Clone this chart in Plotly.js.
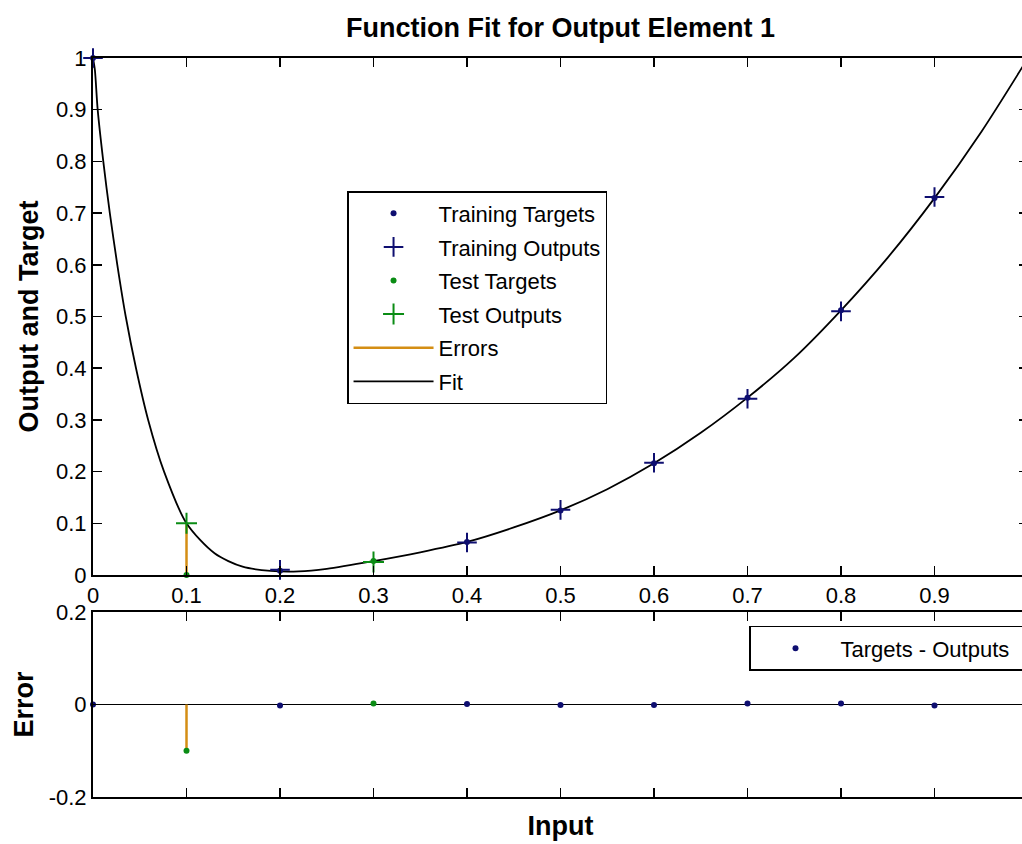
<!DOCTYPE html>
<html>
<head>
<meta charset="utf-8">
<script src="https://cdn.plot.ly/plotly-3.0.1.min.js"></script>
<style>
html,body{margin:0;padding:0;overflow:hidden;background:#fff;}
#chart{width:1030px;height:844px;}
</style>
</head>
<body>
<div id="chart"></div>
<script>
// ---- data ----
const xTrain = [0, 0.2, 0.4, 0.5, 0.6, 0.7, 0.8, 0.9];
const trainTargets = [1, 0.008, 0.064, 0.125, 0.216, 0.343, 0.512, 0.729];
const trainOutputs = [1, 0.010, 0.063, 0.126, 0.217, 0.341, 0.510, 0.731];

const xTest = [0.1, 0.3];
const testTargets = [0, 0.027];
const testOutputs = [0.1, 0.025];

const fitX = [0, 0.002, 0.005, 0.011, 0.018, 0.026, 0.035, 0.046, 0.059, 0.076, 0.1, 0.13, 0.16, 0.19, 0.22, 0.25, 0.3, 0.35, 0.4, 0.45, 0.5, 0.55, 0.6, 0.65, 0.7, 0.75, 0.8, 0.85, 0.9, 0.95, 1.0];
const fitY = [1, 0.977, 0.9, 0.8, 0.7, 0.6, 0.5, 0.4, 0.3, 0.2, 0.1, 0.042, 0.016, 0.008, 0.007, 0.012, 0.027, 0.044, 0.064, 0.092, 0.125, 0.166, 0.216, 0.275, 0.343, 0.42, 0.512, 0.614, 0.729, 0.857, 1.0];

const xTickVals = [0, 0.1, 0.2, 0.3, 0.4, 0.5, 0.6, 0.7, 0.8, 0.9];
const xTickText = ['0', '0.1', '0.2', '0.3', '0.4', '0.5', '0.6', '0.7', '0.8', '0.9'];
const yTickVals = [0, 0.1, 0.2, 0.3, 0.4, 0.5, 0.6, 0.7, 0.8, 0.9, 1];
const yTickText = ['0', '0.1', '0.2', '0.3', '0.4', '0.5', '0.6', '0.7', '0.8', '0.9', '1'];
const errTickVals = [-0.2, 0, 0.2];
const errTickText = ['-0.2', '0', '0.2'];

// ---- derived ----
const allX = xTrain.concat(xTest);
const allT = trainTargets.concat(testTargets);
const allO = trainOutputs.concat(testOutputs);
const allE = allT.map((t, i) => +(t - allO[i]).toFixed(4));
const trainErr = trainTargets.map((t, i) => +(t - trainOutputs[i]).toFixed(4));
const testErr = testTargets.map((t, i) => +(t - testOutputs[i]).toFixed(4));

const errLineX = [], errLineY = [], errLine2X = [], errLine2Y = [];
allX.forEach((x, i) => {
  errLineX.push(x, x, null); errLineY.push(allT[i], allO[i], null);
  errLine2X.push(x, x, null); errLine2Y.push(0, allE[i], null);
});

const NAVY = 'rgb(14,14,112)';
const GREEN = 'rgb(10,140,20)';
const ORANGE = 'rgb(212,142,20)';
const FONT = 'Liberation Sans, Arial, sans-serif';

const traces = [
  {x: errLineX, y: errLineY, mode: 'lines', name: 'Errors', line: {color: ORANGE, width: 2.5},
   legendrank: 5, legendgroup: 'g5', xaxis: 'x', yaxis: 'y', hoverinfo: 'skip'},
  {x: fitX, y: fitY, mode: 'lines', name: 'Fit', line: {color: 'black', width: 1.8, shape: 'spline', smoothing: 0.8},
   legendrank: 6, legendgroup: 'g6', xaxis: 'x', yaxis: 'y'},
  {x: xTrain, y: trainTargets, mode: 'markers', name: 'Training Targets',
   marker: {color: NAVY, size: 6, symbol: 'circle'}, cliponaxis: false,
   legendrank: 1, legendgroup: 'g1', xaxis: 'x', yaxis: 'y'},
  {x: xTrain, y: trainOutputs, mode: 'markers', name: 'Training Outputs',
   marker: {color: NAVY, size: 14, symbol: 'cross-thin', line: {color: NAVY, width: 2}}, cliponaxis: false,
   legendrank: 2, legendgroup: 'g2', xaxis: 'x', yaxis: 'y'},
  {x: xTest, y: testTargets, mode: 'markers', name: 'Test Targets',
   marker: {color: GREEN, size: 6, symbol: 'circle'}, cliponaxis: false,
   legendrank: 3, legendgroup: 'g3', xaxis: 'x', yaxis: 'y'},
  {x: xTest, y: testOutputs, mode: 'markers', name: 'Test Outputs',
   marker: {color: GREEN, size: 15, symbol: 'cross-thin', line: {color: GREEN, width: 2}}, cliponaxis: false,
   legendrank: 4, legendgroup: 'g4', xaxis: 'x', yaxis: 'y'},
  // error subplot
  {x: errLine2X, y: errLine2Y, mode: 'lines', line: {color: ORANGE, width: 2.5}, showlegend: false,
   xaxis: 'x2', yaxis: 'y2', hoverinfo: 'skip'},
  {x: xTrain, y: trainErr, mode: 'markers', name: 'Targets - Outputs\u00a0\u00a0', legend: 'legend2',
   marker: {color: NAVY, size: 6, symbol: 'circle'}, cliponaxis: false, xaxis: 'x2', yaxis: 'y2'},
  {x: xTest, y: testErr, mode: 'markers', showlegend: false,
   marker: {color: GREEN, size: 6, symbol: 'circle'}, cliponaxis: false, xaxis: 'x2', yaxis: 'y2'}
];

const axBase = {
  showline: true, linecolor: 'black', linewidth: 2, mirror: 'ticks',
  ticks: 'inside', ticklen: 9, tickwidth: 1.5, tickcolor: 'black',
  showgrid: false, zeroline: false,
  tickfont: {family: FONT, size: 22, color: 'black'}
};

const layout = {
  width: 1030, height: 844,
  margin: {l: 93, r: 2, t: 58, b: 47},
  paper_bgcolor: 'white', plot_bgcolor: 'white',
  font: {family: FONT, color: 'black'},
  title: {text: 'Function Fit for Output Element 1', font: {family: FONT, size: 27, weight: 'bold', color: 'black'},
          x: 0.5, xref: 'paper', xanchor: 'center', y: 1 - 28 / 844, yref: 'container', yanchor: 'middle'},
  xaxis: Object.assign({}, axBase, {domain: [0, 1], range: [0, 1], anchor: 'y',
          tickmode: 'array', tickvals: xTickVals, ticktext: xTickText}),
  yaxis: Object.assign({}, axBase, {domain: [0.3004, 1], range: [0, 1], anchor: 'x',
          tickmode: 'array', tickvals: yTickVals, ticktext: yTickText,
          title: {text: 'Output and Target', font: {family: FONT, size: 27, weight: 'bold'}, standoff: 10}}),
  xaxis2: Object.assign({}, axBase, {domain: [0, 1], range: [0, 1], anchor: 'y2',
          tickmode: 'array', tickvals: xTickVals, showticklabels: false,
          title: {text: 'Input', font: {family: FONT, size: 27, weight: 'bold'}, standoff: 18}}),
  yaxis2: Object.assign({}, axBase, {domain: [0, 0.2503], range: [-0.2, 0.2], anchor: 'x2',
          tickmode: 'array', tickvals: errTickVals, ticktext: errTickText,
          zeroline: true, zerolinecolor: 'black', zerolinewidth: 1.5,
          title: {text: 'Error', font: {family: FONT, size: 27, weight: 'bold'}, standoff: 7}}),
  showlegend: true,
  legend: {x: 0.2717, xanchor: 'left', y: 0.820, yanchor: 'top', xref: 'paper', yref: 'paper',
           bgcolor: 'white', bordercolor: 'black', borderwidth: 1.5,
           font: {family: FONT, size: 22, color: 'black'},
           traceorder: 'grouped', tracegroupgap: 2, itemwidth: 80, itemsizing: 'trace'},
  legend2: {x: 1, xanchor: 'right', y: 0.2314, yanchor: 'top', xref: 'paper', yref: 'paper',
           bgcolor: 'white', bordercolor: 'black', borderwidth: 1.5,
           font: {family: FONT, size: 22, color: 'black'}, itemwidth: 80, itemsizing: 'trace'}
};

Plotly.newPlot('chart', traces, layout, {displayModeBar: false, staticPlot: true});
</script>
</body>
</html>
